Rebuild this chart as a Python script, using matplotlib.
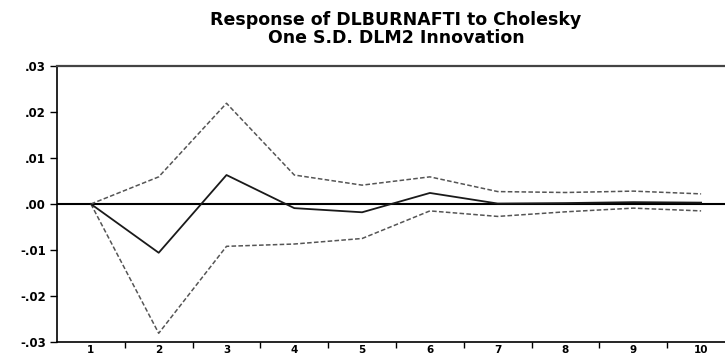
import matplotlib
matplotlib.use("Agg")
import matplotlib.pyplot as plt

# Impulse response of DLBURNAFTI to a one S.D. DLM2 shock, with +/- 2 S.E. bands
periods = [1, 2, 3, 4, 5, 6, 7, 8, 9, 10]
response = [0.0, -0.0106, 0.0063, -0.0009, -0.0018, 0.0024, 0.0001, 0.0002, 0.0004, 0.0003]
upper = [0.0, 0.0059, 0.0219, 0.0063, 0.0041, 0.0059, 0.0027, 0.0025, 0.0028, 0.0022]
lower = [0.0, -0.0281, -0.0092, -0.0087, -0.0075, -0.0015, -0.0027, -0.0017, -0.0009, -0.0015]

yticks = [0.03, 0.02, 0.01, 0.0, -0.01, -0.02, -0.03]
ytick_labels = [".03", ".02", ".01", ".00", "-.01", "-.02", "-.03"]
xtick_labels = [str(p) for p in periods]

title = "Response of DLBURNAFTI to Cholesky\nOne S.D. DLM2 Innovation"

W, H = 725, 360
fig = plt.figure(figsize=(W / 100, H / 100), dpi=100)
left, right, top, bottom = 57, 735, 66, 342
ax = fig.add_axes([left / W, 1 - bottom / H, (right - left) / W, (bottom - top) / H])

ax.axhline(0, color="black", lw=1.5, zorder=2)
ax.plot(periods, upper, color="#555555", lw=1.1, linestyle=(0, (3, 1.5)), zorder=3)
ax.plot(periods, lower, color="#555555", lw=1.1, linestyle=(0, (3, 1.5)), zorder=3)
ax.plot(periods, response, color="#1a1a1a", lw=1.3, zorder=4)

ax.set_xlim(0.5, 10.5)
ax.set_ylim(-0.03, 0.03)

ax.set_yticks(yticks)
ax.set_yticklabels(ytick_labels, fontsize=8.5, fontweight="bold")
ax.set_xticks(periods)
ax.set_xticklabels(xtick_labels, fontsize=7.5, fontweight="bold")
# ticks sit on the category boundaries, labels at the centres
ax.set_xticks([p + 0.5 for p in periods[:-1]], minor=True)
ax.tick_params(axis="x", which="major", length=0, pad=2)
ax.tick_params(axis="x", which="minor", length=4, width=1.0, direction="out")
ax.tick_params(axis="y", length=5, width=1.0, direction="out", pad=3)

for s in ("left", "bottom"):
    ax.spines[s].set_color("black")
    ax.spines[s].set_linewidth(1.2)
ax.spines["top"].set_color("#444444")
ax.spines["top"].set_linewidth(1.6)
ax.spines["right"].set_visible(False)

fig.text((left + right) / 2 / W, 1 - 11 / H, title, ha="center", va="top",
         fontsize=12.5, fontweight="bold", linespacing=0.98)

fig.savefig("out.png", dpi=100, facecolor="white")
